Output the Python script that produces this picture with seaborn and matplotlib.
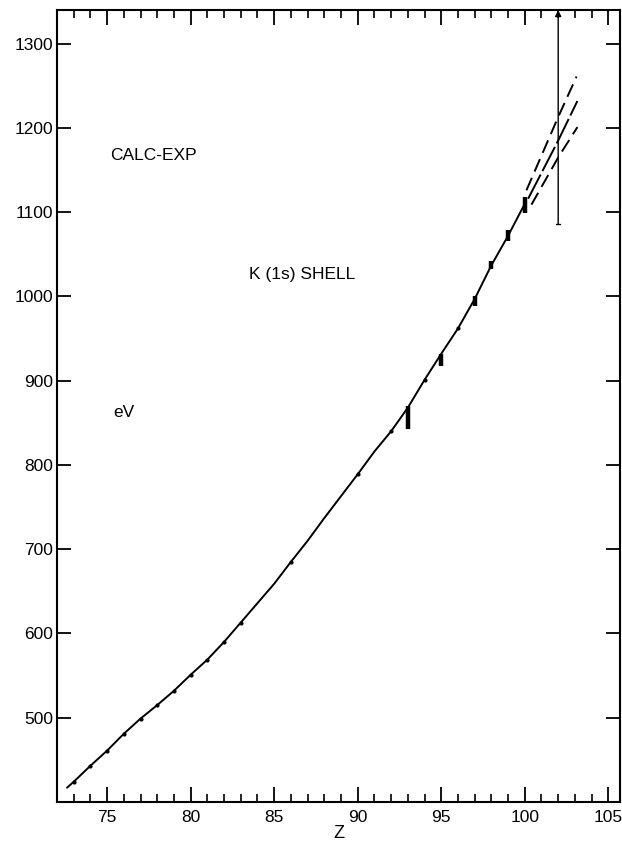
import matplotlib
matplotlib.use("Agg")
import matplotlib.pyplot as plt
from matplotlib.ticker import MultipleLocator, FixedLocator
import seaborn as sns
import pandas as pd

# ---- data ----
curve_z = [72.6, 73, 74, 75, 76, 77, 78, 79, 80, 81, 82, 83, 84, 85, 86, 87, 88,
           89, 90, 91, 92, 93, 94, 95, 96, 97, 98, 99, 100]
curve_v = [417, 424, 443, 461, 481, 499, 515, 532, 551, 569, 590, 613, 636, 659,
           685, 710, 737, 763, 789, 816, 840, 868, 901, 932, 962, 997, 1037, 1072, 1110]

dot_z = [73, 74, 75, 76, 77, 78, 79, 80, 81, 82, 83, 86, 90, 92, 94, 96]
dot_v = [424, 443, 461, 481, 499, 515, 532, 551, 569, 590, 613, 685, 789, 840, 901, 962]

bar_z = [93, 95, 97, 98, 99, 100]
bar_lo = [843, 918, 989, 1033, 1066, 1099]
bar_hi = [870, 932, 1001, 1042, 1079, 1118]

upper_z = [100.1, 102, 103.1]
upper_v = [1126, 1213, 1261]
mid_z = [100.2, 102, 103.15]
mid_v = [1116, 1185, 1232]
lower_z = [100.4, 102, 103.15]
lower_v = [1109, 1165, 1201]

vline_z = 102
vline_lo = 1086
vline_hi = 1340

x_ticks = [75, 80, 85, 90, 95, 100, 105]
y_ticks = [500, 600, 700, 800, 900, 1000, 1100, 1200, 1300]

# ---- style ----
sns.set_theme(style="ticks")
plt.rcParams["font.family"] = ["Liberation Sans", "DejaVu Sans"]
plt.rcParams["text.color"] = "black"
plt.rcParams["axes.labelcolor"] = "black"

fig = plt.figure(figsize=(6.22, 8.43), dpi=100)
ax = fig.add_axes([57 / 622, 41 / 843, 563 / 622, 792 / 843])

curve_df = pd.DataFrame({"Z": curve_z, "E": curve_v})
sns.lineplot(data=curve_df, x="Z", y="E", color="black", lw=1.4, sort=False, ax=ax)

dot_df = pd.DataFrame({"Z": dot_z, "E": dot_v})
sns.scatterplot(data=dot_df, x="Z", y="E", color="black", s=9, linewidth=0, ax=ax, zorder=3)

ax.vlines(bar_z, bar_lo, bar_hi, colors="black", lw=3.2, zorder=3)

sns.lineplot(x=upper_z, y=upper_v, color="black", lw=1.4, ax=ax)
ax.lines[-1].set_dashes([7, 3.5])
sns.lineplot(x=mid_z, y=mid_v, color="black", lw=1.4, ax=ax)
ax.lines[-1].set_dashes([14, 2])
sns.lineplot(x=lower_z, y=lower_v, color="black", lw=1.4, ax=ax)
ax.lines[-1].set_dashes([7, 3.5])

ax.annotate("", xy=(vline_z, vline_hi), xytext=(vline_z, vline_lo),
            arrowprops=dict(arrowstyle="-|>", color="black", lw=1.0,
                            mutation_scale=9, shrinkA=0, shrinkB=0),
            annotation_clip=False)
ax.plot([vline_z - 0.12, vline_z + 0.12], [vline_lo, vline_lo], color="black", lw=1.0)

ax.set_xlim(72, 105.7)
ax.set_ylim(400, 1340)

ax.xaxis.set_major_locator(FixedLocator(x_ticks))
ax.xaxis.set_minor_locator(MultipleLocator(1))
ax.yaxis.set_major_locator(FixedLocator(y_ticks))
ax.set_xticklabels([str(v) for v in x_ticks])
ax.set_yticklabels([str(v) for v in y_ticks])

ax.tick_params(axis="both", which="both", direction="in", top=True, right=True,
               colors="black", labelsize=12.5)
ax.tick_params(axis="x", which="major", length=11, width=1.3, pad=6)
ax.tick_params(axis="x", which="minor", length=6, width=1.2)
ax.tick_params(axis="y", which="major", length=10, width=1.3, pad=3)
ax.tick_params(axis="y", which="minor", length=0)

for sp in ax.spines.values():
    sp.set_visible(True)
    sp.set_linewidth(1.5)
    sp.set_color("black")

ax.set_xlabel("Z", fontsize=13, labelpad=0, color="black")
ax.set_ylabel("")

ax.text(75.2, 1167, "CALC-EXP", fontsize=12.5, va="center", ha="left", color="black")
ax.text(83.5, 1026, "K (1s) SHELL", fontsize=12.5, va="center", ha="left", color="black")
ax.text(75.35, 862, "eV", fontsize=12.5, va="center", ha="left", color="black")

fig.savefig("out.png", dpi=100)
